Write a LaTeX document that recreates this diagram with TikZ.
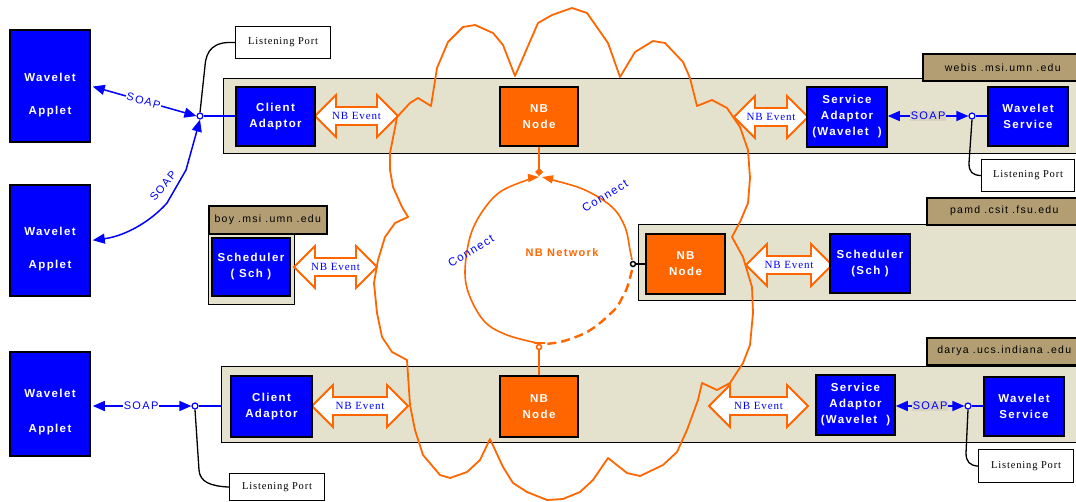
\documentclass[tikz,border=0pt]{standalone}
\usepackage{fontspec}
\setmainfont{Liberation Serif}
\setsansfont{Liberation Sans}
\newfontfamily\lsans[LetterSpace=12]{Liberation Sans}
\newfontfamily\lserif[LetterSpace=8]{Liberation Serif}
\usetikzlibrary{arrows.meta}
\definecolor{wblue}{RGB}{0,0,255}
\definecolor{nborange}{RGB}{255,102,0}
\definecolor{bandfill}{RGB}{228,225,204}
\definecolor{labelfill}{RGB}{178,158,114}
\definecolor{soapbg}{RGB}{216,210,194}
\tikzset{
  bandbox/.style={draw=black, line width=1.3pt, fill=bandfill, anchor=north west, inner sep=0pt},
  hostlabel/.style={draw=black, line width=1.5pt, fill=labelfill, anchor=north west, inner sep=0pt,
    font=\lsans\fontsize{10.5}{12}\selectfont},
  bluebox/.style={draw=black, line width=1.6pt, fill=wblue, text=white,
    font=\lsans\bfseries\fontsize{11.5}{16}\selectfont, align=center,
    minimum width=80pt, minimum height=60pt, inner sep=0pt},
  nbnode/.style={bluebox, fill=nborange},
  applet/.style={draw=black, line width=1.6pt, fill=wblue, minimum width=80pt, inner sep=0pt},
  applettext/.style={text=white, font=\lsans\bfseries\fontsize{11.5}{16}\selectfont, align=center, inner sep=0pt},
  lportbox/.style={draw=black, line width=1.2pt, fill=white, anchor=north west, inner sep=0pt,
    font=\lserif\fontsize{10.5}{12}\selectfont},
  soapline/.style={wblue, line width=1.5pt, {Triangle[length=12pt,width=10pt]}-{Triangle[length=12pt,width=10pt]}},
  soaptext/.style={text=wblue, font=\lsans\fontsize{11}{13}\selectfont, inner sep=1pt},
  portmark/.style={circle, draw=wblue, fill=white, line width=1.2pt, minimum size=6pt, inner sep=0pt},
  blueline/.style={wblue, line width=1.5pt},
  lpline/.style={black, line width=1.3pt},
  evarrow/.style={draw=nborange, line width=1.8pt, fill=white, line join=miter},
  evtext/.style={text=wblue, font=\lserif\fontsize{11}{13}\selectfont, inner sep=0pt},
  cloudline/.style={nborange, line width=1.8pt, line join=round},
  ringline/.style={nborange, line width=1.6pt},
  conntext/.style={text=wblue, font=\lsans\fontsize{11.5}{13}\selectfont, inner sep=0pt},
}
% name, x left tip, x right tip, y centre
\newcommand\nbevent[4]{%
  \draw[evarrow] (#2,#4) -- (#2+21,#4-21) -- (#2+21,#4-9) -- (#3-21,#4-9) -- (#3-21,#4-21)
    -- (#3,#4) -- (#3-21,#4+21) -- (#3-21,#4+9) -- (#2+21,#4+9) -- (#2+21,#4+21) -- cycle;
  \node[evtext] (#1) at ({(#2+#3)/2},#4) {NB Event};}
\begin{document}
\begin{tikzpicture}[x=1pt,y=-1pt]
\useasboundingbox (0,0) rectangle (1076,501);
\clip (0,0) rectangle (1076,501);

% bands and host labels
\node[bandbox, minimum width=860pt, minimum height=75pt] (band1) at (223,78) {};
\node[hostlabel, minimum width=160pt, minimum height=27pt] (lab1) at (922,53) {webis .msi.umn .edu};
\node[bandbox, minimum width=445pt, minimum height=76pt] (band2) at (638,224) {};
\node[hostlabel, minimum width=155pt, minimum height=27pt] (lab2) at (926,197) {pamd .csit .fsu.edu};
\node[bandbox, minimum width=862pt, minimum height=76pt] (band3) at (221,366) {};
\node[hostlabel, minimum width=155pt, minimum height=27pt] (lab3) at (926,337) {darya .ucs.indiana .edu};
\node[bandbox, minimum width=86pt, minimum height=71pt] (boyband) at (208,233) {};
\node[hostlabel, minimum width=118pt, minimum height=28pt] (boylab) at (208,205) {boy .msi .umn .edu};

% NB Event double arrows
\nbevent{ev1}{315}{398}{116}
\nbevent{ev2}{734}{808}{117}
\nbevent{ev3}{294}{377}{267}
\nbevent{ev4}{746}{832}{265}
\nbevent{ev5}{312}{408}{406}
\nbevent{ev6}{709}{808}{406}

% cloud
\draw[cloudline] (397,117) -- (410,103) -- (418,98) -- (431,106) -- (437,68) -- (448,42) -- (463,27)
 -- (475,25) -- (493,33) -- (503,45) -- (515,76) -- (538,23) -- (552,15) -- (572,8) -- (587,13)
 -- (608,43) -- (620,77) -- (635,52) -- (653,41) -- (665,43) -- (683,62) -- (690,78) -- (697,106)
 -- (712,100) -- (727,108) -- (740,127) -- (748,150) -- (750,178) -- (748,203) -- (740,222)
 -- (732,237) -- (743,257) -- (752,287) -- (753,313) -- (750,345) -- (743,363) -- (730,383)
 -- (717,390) -- (702,383) -- (698,400) -- (687,430) -- (677,452) -- (663,465) -- (640,476)
 -- (627,473) -- (608,458) -- (593,480) -- (580,492) -- (563,499) -- (547,500) -- (527,492)
 -- (513,483) -- (503,467) -- (490,439) -- (480,460) -- (467,472) -- (450,478) -- (440,475)
 -- (423,455) -- (415,430) -- (410,405) -- (407,360) -- (392,352) -- (382,337) -- (377,313)
 -- (374,283) -- (378,260) -- (385,237) -- (395,223) -- (408,217) -- (402,207) -- (393,187)
 -- (390,170) -- (390,153) -- (395,128) -- cycle;

% applets
\node[applet, minimum height=112pt] (wa1) at (50,86) {};
\node[applettext] (wa1t) at ([yshift=-9pt]wa1.center) {Wavelet\\[17pt]Applet};
\node[applet, minimum height=111pt] (wa2) at (50,240.5) {};
\node[applettext] (wa2t) at ([yshift=-9pt]wa2.center) {Wavelet\\[17pt]Applet};
\node[applet, minimum height=104pt] (wa3) at (50,404) {};
\node[applettext] (wa3t) at ([yshift=-8pt]wa3.center) {Wavelet\\[19pt]Applet};

% boxes
\node[bluebox, minimum width=79pt, minimum height=59pt] (ca1) at (275.5,116.5) {Client\\Adaptor};
\node[nbnode, minimum width=78pt, minimum height=59pt] (nbt) at (539,116.5) {NB\\Node};
\node[bluebox] (sa1) at (847,117) {Service\\Adaptor\\(Wavelet \ )};
\node[bluebox, minimum height=59pt] (ws1) at (1028,116.5) {Wavelet\\Service};
\node[bluebox, minimum width=78pt, minimum height=58pt] (sch1) at (251,267) {Scheduler\\( Sch )};
\node[nbnode, minimum width=79pt] (nbm) at (685.5,264) {NB\\Node};
\node[bluebox, minimum height=59pt] (sch2) at (870,263.5) {Scheduler\\(Sch )};
\node[bluebox, minimum width=81pt, minimum height=61pt] (ca2) at (271.5,406.5) {Client\\Adaptor};
\node[nbnode, minimum width=78pt, minimum height=61pt] (nbb) at (539,406.5) {NB\\Node};
\node[bluebox, minimum width=79pt] (sa2) at (855.5,405) {Service\\Adaptor\\(Wavelet \ )};
\node[bluebox, minimum height=59pt] (ws2) at (1024,406.5) {Wavelet\\Service};

% listening port boxes
\node[lportbox, minimum width=95pt, minimum height=32pt] (lp1) at (235,26) {Listening Port};
\node[lportbox, minimum width=93pt, minimum height=32pt] (lp2) at (981,159) {Listening Port};
\node[lportbox, minimum width=95pt, minimum height=27pt] (lp3) at (229,473) {Listening Port};
\node[lportbox, minimum width=95pt, minimum height=33pt] (lp4) at (978,449) {Listening Port};

% ports
\node[portmark] (p1) at (200,116) {};
\node[portmark] (p2) at (972,116) {};
\node[portmark] (p3) at (195,406) {};
\node[portmark] (p4) at (968,406) {};

% listening port connectors
\draw[lpline] (p1.north) -- (205,66) .. controls (206,50) and (214,41) .. (lp1.west);
\draw[lpline] (p2.south) -- (969,163) .. controls (969,172) and (972,175) .. (lp2.west);
\draw[lpline] (p3.south) -- (199,470) .. controls (200,482) and (210,486) .. (lp3.west);
\draw[lpline] (p4.south) -- (966,453) .. controls (966,462) and (970,465.5) .. (lp4.west);

% port to box lines
\draw[blueline] (p1.east) -- (p1.east -| ca1.west);
\draw[blueline] (p2.east) -- (p2.east -| ws1.west);
\draw[blueline] (p3.east) -- (p3.east -| band3.west);
\draw[blueline] (p4.east) -- (p4.east -| ws2.west);

% SOAP connectors
\draw[soapline, shorten <=2pt] (wa1.east) -- node[soaptext, fill=white, sloped] (soap1) {SOAP} (p1.west);
\draw[soapline, shorten >=2pt] (p1.south) -- (186,170) -- (167,203) .. controls (150,222) and (125,236) .. (wa2.east);
\node[soaptext, rotate=50] (soap2) at (163,186) {SOAP};
\draw[soapline, shorten <=2pt] (wa3.east |- p3) -- node[soaptext, fill=white] (soap3) {SOAP} (p3.west);
\draw[soapline] (sa1.east |- p2) -- node[soaptext, fill=soapbg] (soap4) {SOAP} (p2.west);
\draw[soapline] (sa2.east |- p4) -- node[soaptext, fill=soapbg] (soap5) {SOAP} (p4.west);

% NB network ring
\coordinate (rtop) at (540,173);
\coordinate (rbot) at (540,345);
\draw[ringline] (nbt.south) -- (nbt.south |- rtop);
\fill[nborange] (539,168) -- (543,172) -- (539,176) -- (535,172) -- cycle;
\draw[ringline] (nbb.north) -- (nbb.north |- rbot);
\draw[ringline] (534,343) -- (545,343);
\draw[ringline, fill=white] (539,347) circle (2.5pt);
\draw[ringline, -{Triangle[length=11pt,width=8pt]}] plot[smooth, tension=0.6] coordinates
  {(537,343) (507,335) (485,322) (470,297) (465,272) (470,237) (482,212) (500,192) (527,180) (539,177)};
\draw[ringline, -{Triangle[length=11pt,width=8pt]}] plot[smooth, tension=0.6] coordinates
  {(632,260) (630,250) (625,227) (612,207) (585,190) (553,180) (542,177)};
\draw[ringline, line width=2.4pt, dash pattern=on 9pt off 5pt] plot[smooth, tension=0.6] coordinates
  {(632,270) (630,278) (627,288) (622,298) (617,307) (610,314) (600,323) (587,332) (573,338) (560,342) (546,344)};
\node[circle, draw=black, line width=1.5pt, fill=white, minimum width=5pt, inner sep=0pt] (pm) at (633,264) {};
\draw[black, line width=1.5pt] (pm.east) -- (pm.east -| nbm.west);
\node[text=nborange, font=\lsans\bfseries\fontsize{11}{13}\selectfont] (nbnet) at (562,253) {NB Network};
\node[conntext, rotate=31] (conn1) at (471,251) {Connect};
\node[conntext, rotate=31] (conn2) at (605,196) {Connect};
\end{tikzpicture}
\end{document}
